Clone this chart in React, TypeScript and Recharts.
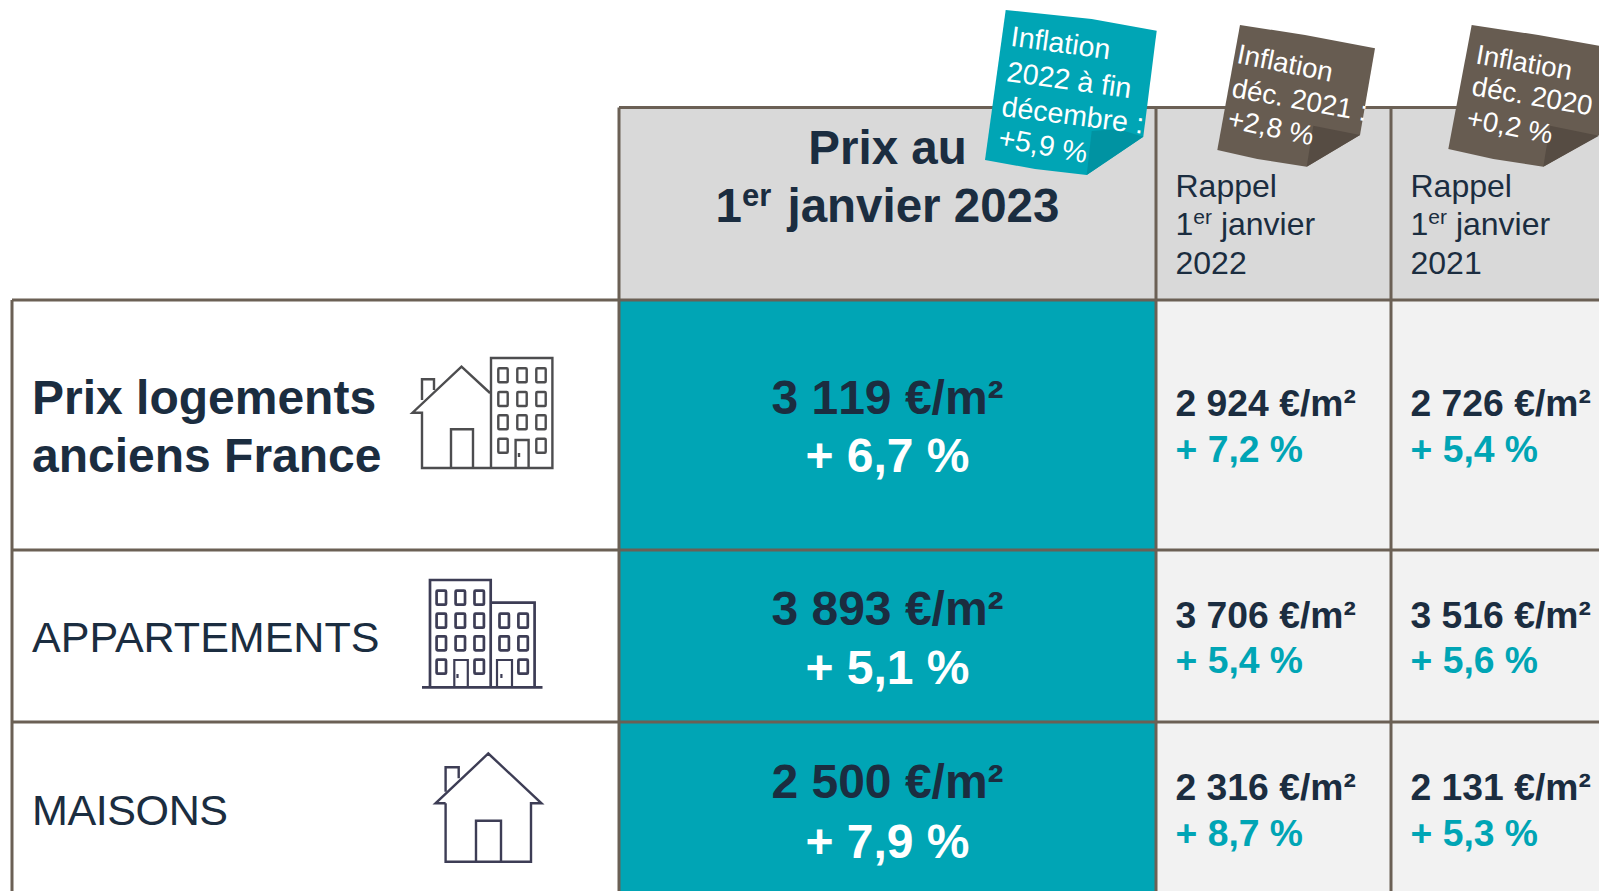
import React from "react";
import { ScatterChart, Scatter, XAxis, YAxis, ReferenceArea, ReferenceLine } from "recharts";

// ---------- data ----------
const rowLabels = ["Prix logements|anciens France", "APPARTEMENTS", "MAISONS"];
const prices2023 = [3119, 3893, 2500];
const changes2023 = [6.7, 5.1, 7.9];
const prices2022 = [2924, 3706, 2316];
const changes2022 = [7.2, 5.4, 8.7];
const prices2021 = [2726, 3516, 2131];
const changes2021 = [5.4, 5.6, 5.3];
const inflationLines2023 = ["Inflation", "2022 à fin", "décembre :", "+5,9 %"];
const inflationLines2022 = ["Inflation", "déc. 2021 :", "+2,8 %"];
const inflationLines2021 = ["Inflation", "déc. 2020", "+0,2 %"];
const rappelYears = ["2022", "2021"];

// ---------- layout (page pixels) ----------
const W = 1599;
const H = 891;
const FONT = '"Liberation Sans", Arial, sans-serif';
const DARK = "#1b2d40";
const TEAL = "#00a5b5";
const TEAL_DARK = "#0093a2";
const BROWN = "#675c51";
const BROWN_DARK = "#564c43";
const GRID = "#6b6055";
const X_LEFT = 12, X_A = 619, X_B = 1156, X_C = 1391;
const Y_TOP = 107.5, Y_H = 300, Y_R1 = 550, Y_R2 = 722;

const fmtPrice = (p: number) => `${Math.floor(p / 1000)} ${String(p % 1000).padStart(3, "0")} €/m²`;
const fmtPct = (v: number) => `+ ${v.toFixed(1).replace(".", ",")} %`;

const mainBase = [[414, 472], [625, 684], [798, 858]];
const sideBase = [[416, 462], [628, 673], [800, 846]];
const labelBase = [[414, 472], [652], [825]];
const labelSpacing = [0, -0.05, -0.45];
const noKern = { fontKerning: "none" } as React.CSSProperties;

// ---------- shapes ----------
const MainCell = (p: any) => {
  const d = p.payload;
  return (
    <g fontFamily={FONT} fontWeight="bold" fontSize={48} textAnchor="middle" style={noKern}>
      <text x={p.cx} y={d.y} fill={DARK}>{d.price}</text>
      <text x={p.cx} y={d.y2} fill="#ffffff">{d.pct}</text>
    </g>
  );
};
const SideCell = (p: any) => {
  const d = p.payload;
  return (
    <g fontFamily={FONT} fontWeight="bold" fontSize={37.3} style={noKern}>
      <text x={p.cx} y={d.y} fill={DARK}>{d.price}</text>
      <text x={p.cx} y={d.y2} fill={TEAL}>{d.pct}</text>
    </g>
  );
};
const RowLabel = (p: any) => {
  const d = p.payload;
  const parts: string[] = d.label.split("|");
  const bold = parts.length > 1;
  return (
    <g fontFamily={FONT} fontWeight={bold ? "bold" : "normal"} fontSize={bold ? 48 : 43.1} fill={DARK} letterSpacing={d.spacing}>
      {parts.map((t, i) => <text key={t} x={p.cx} y={d.bases[i]}>{t}</text>)}
    </g>
  );
};
const MainHeader = (p: any) => (
  <g fontFamily={FONT} fontWeight="bold" fontSize={47.5} fill={DARK} textAnchor="middle">
    <text x={p.cx} y={p.cy}>Prix au</text>
    <text x={p.cx} y={p.cy + 58} xmlSpace="preserve">
      1<tspan fontSize={31} dy={-16}>er</tspan><tspan dy={16} dx={3}> janvier 2023</tspan>
    </text>
  </g>
);
const RappelHeader = (p: any) => (
  <g fontFamily={FONT} fontSize={32} fill={DARK}>
    <text x={p.cx} y={p.cy}>Rappel</text>
    <text x={p.cx} y={p.cy + 38}>1<tspan fontSize={21} dy={-11}>er</tspan><tspan dy={11}> janvier</tspan></text>
    <text x={p.cx} y={p.cy + 77}>{p.payload.year}</text>
  </g>
);
const poly = (pts: number[][]) => pts.map((q) => q.join(",")).join(" ");
const Flag = (p: any) => {
  const d = p.payload;
  const f = d.flag;
  return (
    <g transform={`translate(${p.cx},${p.cy})`}>
      <polygon points={poly(f.body)} fill={f.fill} />
      <polygon points={poly(f.fold)} fill={f.foldFill} />
      <g fontFamily={FONT} fontSize={f.size} fill="#ffffff">
        {d.lines.map((t: string, i: number) => (
          <text key={t} transform={`translate(${f.starts[i][0]},${f.starts[i][1]}) rotate(${f.rots[i]})`}>{t}</text>
        ))}
      </g>
    </g>
  );
};
const Win = ({ x, y }: { x: number; y: number }) => <rect x={x - 4.7} y={y - 7} width={9.4} height={14} rx={1} />;
const Outline = ({ color, w, children }: any) => (
  <g fill="none" stroke={color} strokeWidth={w} strokeLinejoin="miter">{children}</g>
);
const IconMixed = (p: any) => (
  <g transform={`translate(${p.cx - 411},${p.cy - 358})`}>
    <Outline color="#4d4d4f" w={2.4}>
      <polyline points="422,400 422,379.3 434,379.3 434,390" />
      <polyline points="490,393 461.5,366.7 412.5,412.7 422,412.7 422,468 552.4,468 552.4,358 491,358 491,468" />
      <polyline points="451,468 451,429.3 473,429.3 473,468" />
      <polyline points="515.6,468 515.6,440 528.6,440 528.6,468" />
      {[503, 522, 541].flatMap((x) => [375.3, 399, 422.3, 445.7].filter((y) => !(x === 522 && y === 445.7)).map((y) => <Win key={`${x}-${y}`} x={x} y={y} />))}
      <line x1={519} y1={453} x2={519} y2={457} />
    </Outline>
  </g>
);
const IconFlats = (p: any) => (
  <g transform={`translate(${p.cx - 422},${p.cy - 580})`}>
    <Outline color="#3d3d55" w={2.7}>
      <polyline points="430,687 430,580 490.7,580 490.7,687" />
      <polyline points="490.7,602.7 534.6,602.7 534.6,687" />
      <line x1={422} y1={687.3} x2={542.5} y2={687.3} />
      <polyline points="454.3,687 454.3,660 467.8,660 467.8,687" strokeWidth={2.2} />
      <polyline points="497,687 497,660 512,660 512,687" strokeWidth={2.2} />
      {[441.3, 460.3, 479.2].flatMap((x) => [597.7, 620.7, 643.3, 666.7].filter((y) => !(x === 460.3 && y === 666.7)).map((y) => <Win key={`${x}-${y}`} x={x} y={y} />))}
      {[504.2, 523.1].flatMap((x) => [620.7, 643.3, 666.7].filter((y) => !(x === 504.2 && y === 666.7)).map((y) => <Win key={`${x}-${y}`} x={x} y={y} />))}
      <line x1={457.5} y1={674} x2={457.5} y2={678} strokeWidth={2.2} />
      <line x1={501.4} y1={674} x2={501.4} y2={678} strokeWidth={2.2} />
    </Outline>
  </g>
);
const IconHouse = (p: any) => (
  <g transform={`translate(${p.cx - 434},${p.cy - 752})`}>
    <Outline color="#3d3d55" w={2.4}>
      <polyline points="445.6,791.7 445.6,767.3 458.7,767.3 458.7,778.3" />
      <polyline points="445.6,803.3 435.5,803.3 488.3,753.5 541.5,803.3 531,803.3 531,861.7 445.6,861.7 445.6,803.3" />
      <polyline points="476,861.7 476,820.7 501,820.7 501,861.7" />
    </Outline>
  </g>
);

// ---------- series tables built from the arrays ----------
const mainRows = prices2023.map((v, i) => ({ x: 887.5, y: mainBase[i][0], y2: mainBase[i][1], price: fmtPrice(v), pct: fmtPct(changes2023[i]) }));
const side22 = prices2022.map((v, i) => ({ x: 1175.5, y: sideBase[i][0], y2: sideBase[i][1], price: fmtPrice(v), pct: fmtPct(changes2022[i]) }));
const side21 = prices2021.map((v, i) => ({ x: 1410.5, y: sideBase[i][0], y2: sideBase[i][1], price: fmtPrice(v), pct: fmtPct(changes2021[i]) }));
const labels = rowLabels.map((label, i) => ({ x: 32, y: labelBase[i][0], label, bases: labelBase[i], spacing: labelSpacing[i] }));
const mainHead = [{ x: 887.5, y: 164 }];
const rappel = rappelYears.map((year, i) => ({ x: i === 0 ? 1175.5 : 1410.5, y: 197, year }));

const flagTeal = {
  fill: TEAL, foldFill: TEAL_DARK, size: 28.6,
  body: [[20.7, 0], [106.7, 9], [171.7, 20.7], [158.3, 126.7], [101.7, 165], [50, 159], [0, 150]],
  fold: [[106.7, 121], [133, 119], [158.3, 126.7], [101.7, 165]],
  starts: [[24.8, 35.7], [20.7, 71], [15.7, 105.7], [12.3, 136.7]],
  rots: [7.8, 7.9, 7.3, 10.5],
};
const flagB1 = {
  fill: BROWN, foldFill: BROWN_DARK, size: 27.7,
  body: [[22.7, 0], [87.7, 10], [157.7, 23.3], [142.7, 110], [89.4, 141.7], [40, 134], [0, 125]],
  fold: [[96, 100.7], [142.7, 110], [89.4, 141.7]],
  starts: [[18.5, 37.7], [13.4, 71.7], [9.2, 102.3]],
  rots: [11.3, 10.3, 12],
};
const flagB2 = {
  fill: BROWN, foldFill: BROWN_DARK, size: 27.7,
  body: [[23.4, 0], [90, 10], [150.7, 20.7], [150.7, 110], [95, 141.7], [45, 134], [0, 124]],
  fold: [[101.7, 100.7], [150.7, 110.7], [95, 141.7]],
  starts: [[26.5, 38.3], [22.4, 70], [17.2, 101.7]],
  rots: [10, 9.6, 11.4],
};
const flags = [
  { x: 985, y: 10, flag: flagTeal, lines: inflationLines2023 },
  { x: 1217.3, y: 25, flag: flagB1, lines: inflationLines2022 },
  { x: 1448.3, y: 25, flag: flagB2, lines: inflationLines2021 },
];

const gridH = [
  { y: Y_TOP, from: X_A },
  { y: Y_H, from: X_LEFT },
  { y: Y_R1, from: X_LEFT },
  { y: Y_R2, from: X_LEFT },
];
const gridV = [
  { x: X_LEFT, from: Y_H },
  { x: X_A, from: Y_TOP },
  { x: X_B, from: Y_TOP },
  { x: X_C, from: Y_TOP },
];

export default function App() {
  return (
    <div style={{ position: "fixed", left: 0, top: 0, width: W, height: H, background: "#fff" }}>
      <ScatterChart width={W} height={H} margin={{ top: 0, right: 0, bottom: 0, left: 0 }}>
        <XAxis type="number" dataKey="x" domain={[0, W]} hide />
        <YAxis type="number" dataKey="y" domain={[0, H]} reversed hide />

        <ReferenceArea x1={X_A} x2={W} y1={Y_TOP} y2={Y_H} fill="#d9d9d9" fillOpacity={1} stroke="none" />
        <ReferenceArea x1={X_A} x2={X_B} y1={Y_H} y2={H} fill={TEAL} fillOpacity={1} stroke="none" />
        <ReferenceArea x1={X_B} x2={W} y1={Y_H} y2={H} fill="#f2f2f2" fillOpacity={1} stroke="none" />

        {gridH.map((g) => (
          <ReferenceLine key={`h${g.y}`} segment={[{ x: g.from, y: g.y }, { x: W, y: g.y }]} stroke={GRID} strokeWidth={3} />
        ))}
        {gridV.map((g) => (
          <ReferenceLine key={`v${g.x}`} segment={[{ x: g.x, y: g.from }, { x: g.x, y: H }]} stroke={GRID} strokeWidth={3} />
        ))}

        <Scatter data={mainHead} shape={MainHeader} isAnimationActive={false} />
        <Scatter data={rappel} shape={RappelHeader} isAnimationActive={false} />
        <Scatter data={labels} shape={RowLabel} isAnimationActive={false} />
        <Scatter data={mainRows} shape={MainCell} isAnimationActive={false} />
        <Scatter data={side22} shape={SideCell} isAnimationActive={false} />
        <Scatter data={side21} shape={SideCell} isAnimationActive={false} />
        <Scatter data={[{ x: 411, y: 358 }]} shape={IconMixed} isAnimationActive={false} />
        <Scatter data={[{ x: 422, y: 580 }]} shape={IconFlats} isAnimationActive={false} />
        <Scatter data={[{ x: 434, y: 752 }]} shape={IconHouse} isAnimationActive={false} />
        <Scatter data={flags} shape={Flag} isAnimationActive={false} />
      </ScatterChart>
    </div>
  );
}
